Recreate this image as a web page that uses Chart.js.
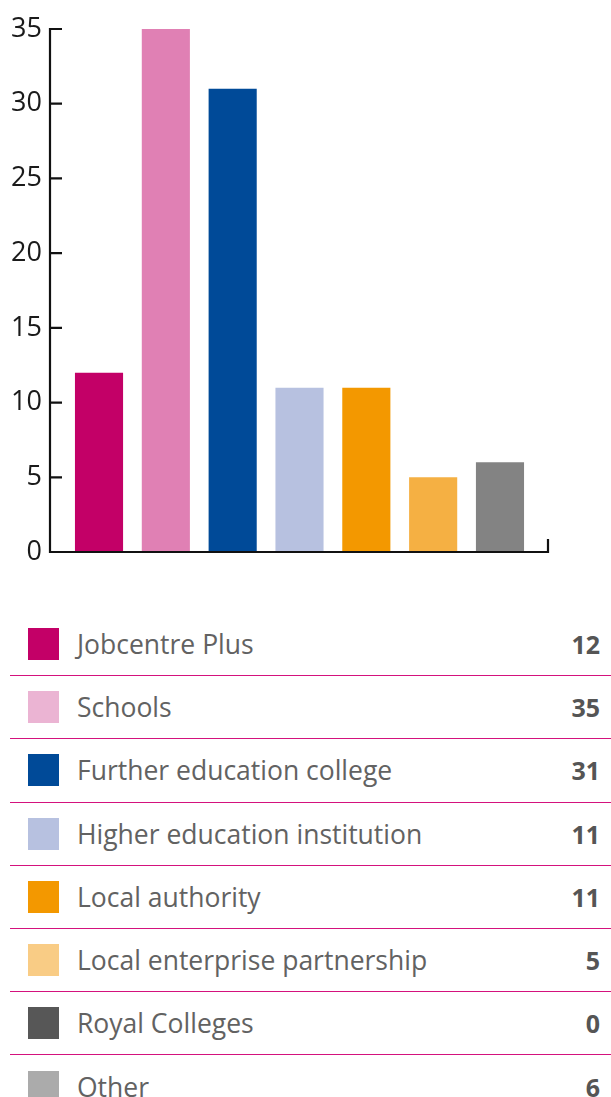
<!DOCTYPE html>
<html>
<head>
<meta charset="utf-8">
<script src="https://cdn.jsdelivr.net/npm/chart.js@4.4.1/dist/chart.umd.min.js"></script>
<style>
  html, body { margin: 0; padding: 0; background: #ffffff; }
  body { width: 611px; height: 1097px; overflow: hidden; position: relative; font-family: "Open Sans", sans-serif; }
  #chartBox { position: absolute; left: 0; top: 0; width: 611px; height: 590px; }
  #key { position: absolute; left: 10px; top: 613px; width: 601px; }
  .row { box-sizing: border-box; height: 63.2px; border-bottom: 1.5px solid #d4127d; display: flex; align-items: center; }
  .row:last-child { border-bottom: none; }
  .sw { width: 31px; height: 32px; margin-left: 18px; margin-right: 18px; flex: none; }
  .name { flex: 1; color: #626262; font-size: 26.5px; font-weight: 400; white-space: nowrap; }
  .val { color: #555555; font-size: 25px; font-weight: 700; padding-right: 11px; }
</style>
</head>
<body>
<div id="chartBox"><canvas id="c"></canvas></div>
<div id="key"></div>
<script>
// Partner types and number of partnerships reported for each
const categories = [
  "Jobcentre Plus",
  "Schools",
  "Further education college",
  "Higher education institution",
  "Local authority",
  "Local enterprise partnership",
  "Royal Colleges",
  "Other"
];
const values = [12, 35, 31, 11, 11, 5, 0, 6];

// Value axis ticks
const yTicks = [0, 5, 10, 15, 20, 25, 30, 35];

// Colours: bars in the chart, swatches in the key
const barColors = ["#c30067", "#e080b4", "#004a98", "#b7c1e0", "#f39800", "#f5b043", "#575757", "#838383"];
const swatchColors = ["#c30067", "#ebb4d3", "#004a98", "#b7c1e0", "#f39800", "#f9cc85", "#575757", "#ababab"];

// Only partner types with at least one partnership get a bar
const shown = values.map((v, i) => i).filter(i => values[i] > 0);

const AXIS_GAP = 15.6;   // axis lines sit a little outside the plot area
const TICK_LEN = 12;

const axisPlugin = {
  id: "axisLines",
  afterDatasetsDraw(chart) {
    const { ctx, chartArea, scales } = chart;
    const y = scales.y;
    const x0 = chartArea.left - AXIS_GAP;
    const x1 = chartArea.right + AXIS_GAP - 1;
    const top = y.getPixelForValue(y.max);
    const base = y.getPixelForValue(0);
    ctx.save();
    ctx.strokeStyle = "#111111";
    ctx.lineWidth = 2.2;
    ctx.lineCap = "butt";
    ctx.beginPath();
    ctx.moveTo(x0, top - 1);
    ctx.lineTo(x0, base);
    ctx.lineTo(x1, base);
    ctx.lineTo(x1, base - 13);
    ctx.stroke();
    ctx.beginPath();
    y.ticks.forEach(t => {
      const py = y.getPixelForValue(t.value);
      ctx.moveTo(x0, py);
      ctx.lineTo(x0 + TICK_LEN, py);
    });
    ctx.stroke();
    ctx.restore();
  }
};

new Chart(document.getElementById("c"), {
  type: "bar",
  data: {
    labels: shown.map(i => categories[i]),
    datasets: [{
      data: shown.map(i => values[i]),
      backgroundColor: shown.map(i => barColors[i]),
      borderWidth: 0,
      categoryPercentage: 1,
      barPercentage: 0.72
    }]
  },
  options: {
    responsive: true,
    maintainAspectRatio: false,
    animation: false,
    events: [],
    layout: { padding: { top: 29, bottom: 38, left: 0, right: 77.6 } },
    plugins: { legend: { display: false }, tooltip: { enabled: false } },
    scales: {
      x: { display: false, offset: true },
      y: {
        min: 0,
        max: 35,
        afterFit(scale) {
          scale.width = 65.6;
          scale.paddingTop = 0;
          scale.paddingBottom = 0;
        },
        afterBuildTicks(scale) { scale.ticks = yTicks.map(v => ({ value: v })); },
        // tick marks are drawn by the plugin; the hidden tick length only spaces the labels
        grid: { display: false, drawTicks: true, tickLength: 23.6 },
        border: { display: false },
        ticks: {
          padding: 0,
          color: "#1a1a1a",
          font: { family: "'Open Sans', sans-serif", size: 27 }
        }
      }
    }
  },
  plugins: [axisPlugin]
});

// Key with counts below the chart
const key = document.getElementById("key");
categories.forEach((name, i) => {
  const row = document.createElement("div");
  row.className = "row";
  const sw = document.createElement("div");
  sw.className = "sw";
  sw.style.background = swatchColors[i];
  const nm = document.createElement("div");
  nm.className = "name";
  nm.textContent = name;
  const vl = document.createElement("div");
  vl.className = "val";
  vl.textContent = String(values[i]);
  row.append(sw, nm, vl);
  key.appendChild(row);
});
</script>
</body>
</html>
